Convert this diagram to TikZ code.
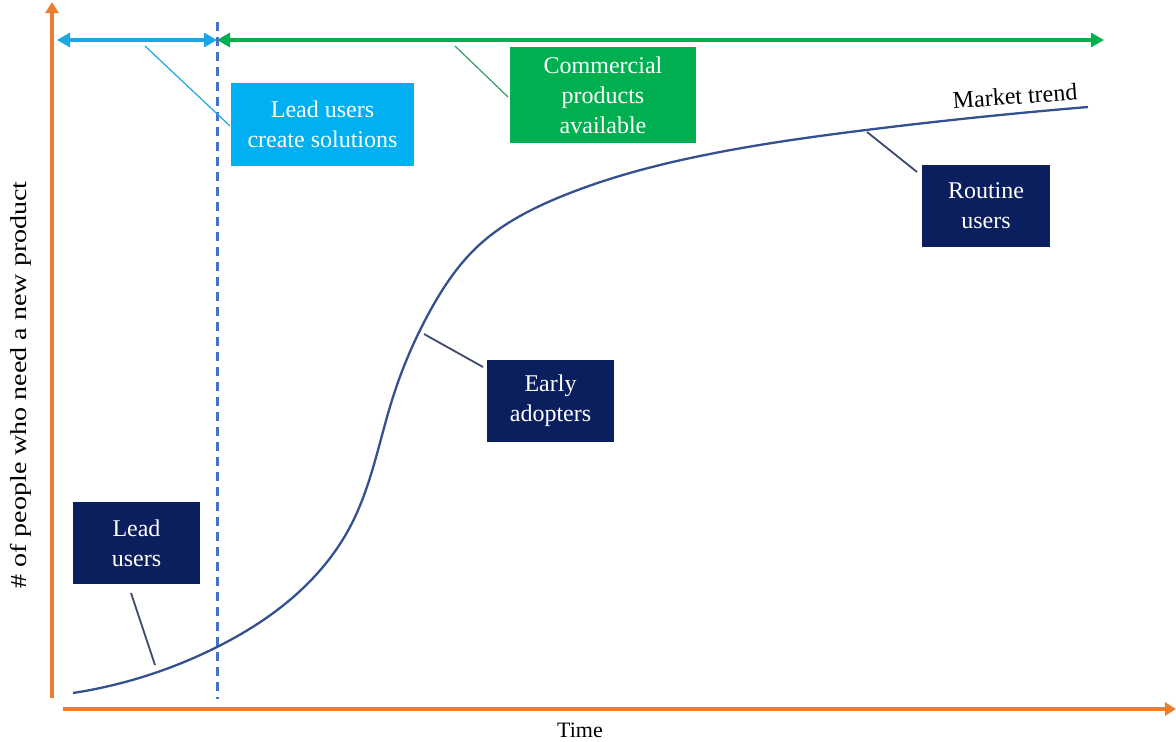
\documentclass[tikz,border=0pt]{standalone}
\usepackage{fontspec}
\setmainfont{Liberation Serif}
\usetikzlibrary{arrows.meta,hobby}

\definecolor{axisorange}{HTML}{ED7D31}
\definecolor{leadcyan}{HTML}{1AA7E8}
\definecolor{boxcyan}{HTML}{00B0F0}
\definecolor{commgreen}{HTML}{00B050}
\definecolor{navybox}{HTML}{0B1F5F}
\definecolor{curveblue}{HTML}{34508F}
\definecolor{dashblue}{HTML}{4472C4}
\definecolor{leadergray}{HTML}{3D4A6B}

\tikzset{
  axisline/.style={draw=axisorange, line width=4pt, -{Triangle[length=11pt,width=13pt]}},
  spanarrow/.style={line width=3.2pt, {Triangle[length=13pt,width=14pt]}-{Triangle[length=13pt,width=14pt]}},
  labelbox/.style={text=white, inner sep=0pt, align=center,
    font=\fontsize{24}{30}\selectfont},
  navybx/.style={labelbox, fill=navybox, minimum width=127pt, minimum height=82pt},
  leader/.style={draw=leadergray, line width=1.8pt},
  trend/.style={draw=curveblue, line width=2.3pt},
  plaintext/.style={text=black, inner sep=0pt}
}

\begin{document}
\begin{tikzpicture}[x=1pt,y=-1pt]
  \useasboundingbox (0,0) rectangle (1176,742);

  % axes
  \coordinate (ybot) at (52,698);
  \coordinate (ytop) at (52,2);
  \coordinate (xleft) at (63,709);
  \coordinate (xright) at (1176,709);
  \draw[axisline] (ybot) -- (ytop);
  \draw[axisline] (xleft) -- (xright);

  % phase spans along the top
  \coordinate (spanA) at (57,40);
  \coordinate (spanB) at (217,40);
  \coordinate (spanC) at (1104,40);
  \draw[spanarrow, draw=leadcyan, fill=leadcyan] (spanA) -- (spanB);
  \draw[spanarrow, draw=commgreen, fill=commgreen] (spanB) -- (spanC);

  % boundary between phases
  \coordinate (dtop) at (217,22);
  \coordinate (dbot) at (217,699);
  \draw[dashblue, line width=3pt, dash pattern=on 9pt off 6pt] (dtop) -- (dbot);

  % adoption curve
  \draw[trend, use Hobby shortcut] (73,693) .. (217,647) .. (300,591)
    .. (350,527) .. (393,397) .. (430,311) .. (477,247) .. (560,197)
    .. (700,156) .. (866,130) .. (1088,107);

  % phase labels
  \node[labelbox, fill=boxcyan, minimum width=183pt, minimum height=83pt]
    (leadsol) at (322.5,124.5) {Lead users\\create solutions};
  \node[labelbox, fill=commgreen, minimum width=186pt, minimum height=96pt]
    (commprod) at (603,95) {Commercial\\products\\available};

  \coordinate (leadsolA) at (145,46);
  \coordinate (leadsolB) at (230,126);
  \draw[leadcyan, line width=1.2pt] (leadsolA) -- (leadsolB);
  \coordinate (commA) at (455,46);
  \coordinate (commB) at (508,97);
  \draw[commgreen!60!gray, line width=1.2pt] (commA) -- (commB);

  % user groups
  \node[navybx] (leadusers) at (136.5,543) {Lead\\users};
  \node[navybx] (early) at (550.5,401) {Early\\adopters};
  \node[navybx, minimum width=128pt] (routine) at (986,206) {Routine\\users};

  \coordinate (luA) at (131,593);
  \coordinate (luB) at (155,665);
  \draw[leader] (luA) -- (luB);
  \coordinate (eaA) at (424,334);
  \coordinate (eaB) at (483,367);
  \draw[leader] (eaA) -- (eaB);
  \coordinate (ruA) at (867,132);
  \coordinate (ruB) at (917,172);
  \draw[leader] (ruA) -- (ruB);

  % texts
  \node[plaintext, font=\fontsize{24}{28}\selectfont, rotate=4] (mtrend) at (1015,96) {Market trend};
  \node[plaintext, font=\fontsize{22}{26}\selectfont] (timelbl) at (580,730) {Time};
  \node[plaintext, font=\fontsize{23}{26}\selectfont, rotate=90] (ylbl) at (21,385)
    {\scalebox{1.22}[1]{\# of people who need a new product}};
\end{tikzpicture}
\end{document}
